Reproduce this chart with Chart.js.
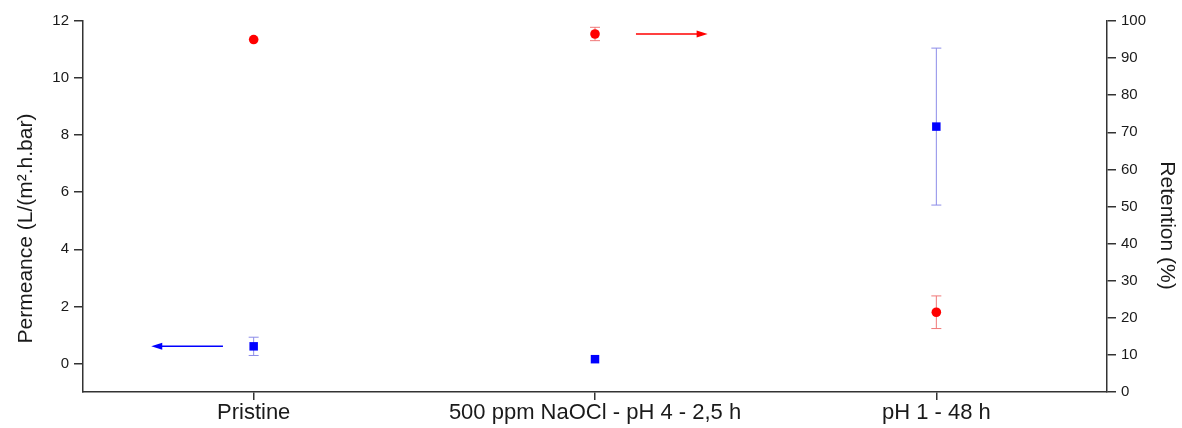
<!DOCTYPE html>
<html>
<head>
<meta charset="utf-8">
<script src="https://cdn.jsdelivr.net/npm/chart.js@4"></script>
<style>
  html, body { margin: 0; padding: 0; background: #fff; }
  #wrap { width: 1182px; height: 428px; }
</style>
</head>
<body>
<div id="wrap"><canvas id="chart"></canvas></div>
<script>
// Samples
const categories = ['Pristine', '500 ppm NaOCl - pH 4 - 2,5 h', 'pH 1 - 48 h'];

// Permeance, L/(m2.h.bar), left axis
const permeance = [0.6, 0.15, 8.3];
const permeanceErr = [0.32, 0, 2.75];

// Retention, %, right axis
const retention = [95, 96.5, 21.5];
const retentionErr = [0, 1.8, 4.4];

// Axis ticks
const permeanceTicks = [0, 2, 4, 6, 8, 10, 12];
const retentionTicks = [0, 10, 20, 30, 40, 50, 60, 70, 80, 90, 100];

// Arrows pointing each series to its axis (x in category index units)
const arrows = [
    { axis: 'yL', y: permeance[0], from: -0.09, to: -0.3, color: '#0000ff' },
    { axis: 'yR', y: retention[1], from: 1.12, to: 1.33, color: '#ff0000' }
];

const FONT = '"Liberation Sans", Arial, sans-serif';
const INK = '#1a1a1a';
const AXIS = '#333333';

// error bars, drawn under the markers
const errorBars = {
    id: 'errorBars',
    beforeDatasetsDraw(chart) {
        const ctx = chart.ctx;
        const x = chart.scales.x;
        chart.data.datasets.forEach(ds => {
            const y = chart.scales[ds.yAxisID];
            ds.data.forEach((v, i) => {
                const e = ds.errors[i];
                if (!e) return;
                const px = x.getPixelForValue(i);
                const top = y.getPixelForValue(v + e);
                const bot = y.getPixelForValue(v - e);
                ctx.save();
                ctx.strokeStyle = ds.errorColor;
                ctx.lineWidth = 1;
                ctx.beginPath();
                ctx.moveTo(px, top); ctx.lineTo(px, bot);
                ctx.moveTo(px - 5, top); ctx.lineTo(px + 5, top);
                ctx.moveTo(px - 5, bot); ctx.lineTo(px + 5, bot);
                ctx.stroke();
                ctx.restore();
            });
        });
    }
};

const axisArrows = {
    id: 'axisArrows',
    afterDatasetsDraw(chart) {
        const ctx = chart.ctx;
        const x = chart.scales.x;
        arrows.forEach(a => {
            const py = chart.scales[a.axis].getPixelForValue(a.y);
            const x0 = x.getPixelForValue(a.from);
            const x1 = x.getPixelForValue(a.to);
            const dir = Math.sign(x1 - x0);
            ctx.save();
            ctx.strokeStyle = a.color;
            ctx.fillStyle = a.color;
            ctx.lineWidth = 1.5;
            ctx.beginPath();
            ctx.moveTo(x0, py);
            ctx.lineTo(x1 - dir * 8, py);
            ctx.stroke();
            ctx.beginPath();
            ctx.moveTo(x1, py);
            ctx.lineTo(x1 - dir * 11, py - 3.5);
            ctx.lineTo(x1 - dir * 11, py + 3.5);
            ctx.closePath();
            ctx.fill();
            ctx.restore();
        });
    }
};

// rotated axis titles, sat a little below the middle of the axes
const axisTitles = {
    id: 'axisTitles',
    afterDraw(chart) {
        const ctx = chart.ctx;
        const area = chart.chartArea;
        const midY = (area.top + area.bottom) / 2;
        ctx.save();
        ctx.fillStyle = INK;
        ctx.font = '21px ' + FONT;
        ctx.textAlign = 'center';
        ctx.textBaseline = 'middle';

        ctx.save();
        ctx.translate(chart.scales.yL.left + 26, midY + 22);
        ctx.rotate(-Math.PI / 2);
        ctx.fillText('Permeance (L/(m².h.bar)', 0, 0);
        ctx.restore();

        ctx.save();
        ctx.translate(chart.scales.yR.right - 15, midY + 19);
        ctx.rotate(Math.PI / 2);
        ctx.fillText('Retention (%)', 0, 0);
        ctx.restore();

        ctx.restore();
    }
};

new Chart(document.getElementById('chart'), {
    type: 'line',
    data: {
        labels: categories,
        datasets: [
            {
                label: 'Permeance',
                data: permeance,
                errors: permeanceErr,
                errorColor: '#8c8ce8',
                yAxisID: 'yL',
                showLine: false,
                pointStyle: 'rect',
                pointRadius: 6,
                pointBorderWidth: 0,
                pointBackgroundColor: '#0000ff',
                borderColor: '#0000ff'
            },
            {
                label: 'Retention',
                data: retention,
                errors: retentionErr,
                errorColor: '#f07878',
                yAxisID: 'yR',
                showLine: false,
                pointStyle: 'circle',
                pointRadius: 4.8,
                pointBorderWidth: 0,
                pointBackgroundColor: '#ff0000',
                borderColor: '#ff0000'
            }
        ]
    },
    options: {
        responsive: true,
        maintainAspectRatio: false,
        animation: false,
        events: [],
        layout: { padding: { top: 21, left: 0, right: 0, bottom: 0 } },
        plugins: {
            legend: { display: false },
            tooltip: { enabled: false }
        },
        scales: {
            x: {
                type: 'category',
                offset: true,
                border: { display: true, color: AXIS, width: 1.5 },
                grid: { drawOnChartArea: false, offset: false, tickLength: 8, color: AXIS, lineWidth: 1.5 },
                ticks: {
                    color: INK, font: { family: FONT, size: 22 },
                    maxRotation: 0, autoSkip: false, padding: 0
                },
                afterFit(scale) { scale.height = 36; }
            },
            yL: {
                type: 'linear',
                position: 'left',
                min: -1,
                max: 12,
                border: { display: true, color: AXIS, width: 1.5 },
                grid: { drawOnChartArea: false, tickLength: 9, color: AXIS, lineWidth: 1.5 },
                ticks: { color: INK, font: { family: FONT, size: 15 }, padding: 5 },
                afterBuildTicks(scale) { scale.ticks = permeanceTicks.map(v => ({ value: v })); },
                afterFit(scale) { scale.width = 83; }
            },
            yR: {
                type: 'linear',
                position: 'right',
                min: 0,
                max: 100,
                border: { display: true, color: AXIS, width: 1.5 },
                grid: { drawOnChartArea: false, tickLength: 9, color: AXIS, lineWidth: 1.5 },
                ticks: { color: INK, font: { family: FONT, size: 15 }, padding: 5 },
                afterBuildTicks(scale) { scale.ticks = retentionTicks.map(v => ({ value: v })); },
                afterFit(scale) { scale.width = 75; }
            }
        }
    },
    plugins: [errorBars, axisArrows, axisTitles]
});
</script>
</body>
</html>
